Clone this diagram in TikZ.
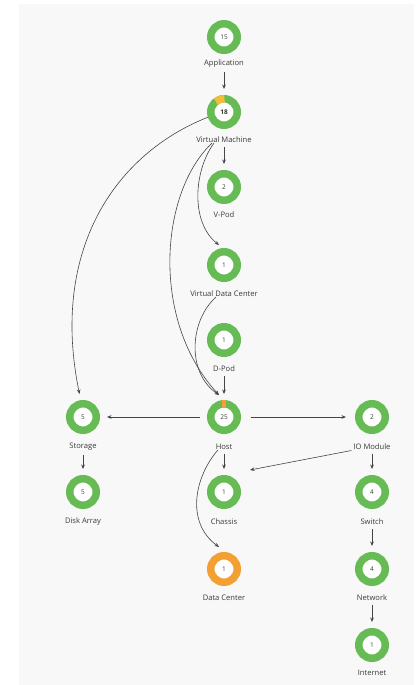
\documentclass[tikz,border=0pt]{standalone}
\usepackage{fontspec}
\setmainfont{Open Sans}
\usetikzlibrary{arrows.meta}
\definecolor{ringgreen}{HTML}{66BB55}
\definecolor{ringorange}{HTML}{F2A033}
\definecolor{warnyellow}{HTML}{F3BD3C}
\definecolor{panel}{HTML}{F8F8F8}
\definecolor{ink}{HTML}{3A3A3A}
\definecolor{edge}{HTML}{454545}
\tikzset{
  ring/.style={circle, draw=ringgreen, line width=7.5pt, fill=white,
    minimum size=26.5pt, inner sep=0pt, text=ink,
    font=\fontsize{6.5}{7}\selectfont},
  orangering/.style={ring, draw=ringorange},
  lab/.style={inner sep=0pt, text=ink, font=\fontsize{7.6}{9}\selectfont},
  arr/.style={draw=edge, line width=0.6pt,
    -{Stealth[length=4.5pt,width=3.6pt]}},
  down/.style={arr, shorten <=4pt, shorten >=6pt},
}
\begin{document}
\begin{tikzpicture}[x=1pt, y=-1pt]
  % page and grey panel
  \useasboundingbox[fill=white] (0,0) rectangle (417,685);
  \fill[panel] (19,4) rectangle (414,685);

  % central column
  \node[ring] (app) at (224,37) {15};
  \node[lab]  (appL) at (224,64) {Application};
  \node[ring] (vm) at (224,112) {\textbf{18}};
  \node[lab]  (vmL) at (224,140) {Virtual Machine};
  \node[ring] (vpod) at (224,187) {2};
  \node[lab]  (vpodL) at (224,215) {V-Pod};
  \node[ring] (vdc) at (224,265) {1};
  \node[lab]  (vdcL) at (224,294) {Virtual Data Center};
  \node[ring] (dpod) at (224,340) {1};
  \node[lab]  (dpodL) at (224,369) {D-Pod};
  \node[ring] (host) at (224,417) {25};
  \node[lab]  (hostL) at (224,447) {Host};
  \node[ring] (chas) at (224,492) {1};
  \node[lab]  (chasL) at (224,522) {Chassis};
  \node[orangering] (dc) at (224,569) {1};
  \node[lab]  (dcL) at (224,598) {Data Center};

  % left column
  \node[ring] (sto) at (83,417) {5};
  \node[lab]  (stoL) at (83,447) {Storage};
  \node[ring] (disk) at (83,492) {5};
  \node[lab]  (diskL) at (83,522) {Disk Array};

  % right column
  \node[ring] (io) at (372,417) {2};
  \node[lab]  (ioL) at (372,447) {IO Module};
  \node[ring] (sw) at (372,492) {4};
  \node[lab]  (swL) at (372,522) {Switch};
  \node[ring] (net) at (372,569) {4};
  \node[lab]  (netL) at (372,598) {Network};
  \node[ring] (inet) at (372,645) {1};
  \node[lab]  (inetL) at (372,673) {Internet};

  % partial warning segments on the rings
  \draw[warnyellow, line width=7.5pt]
    ([shift={(128:13.25pt)}]vm.center) arc[start angle=128, end angle=88, radius=13.25pt];
  \draw[ringorange, line width=7.5pt]
    ([shift={(97:13.25pt)}]host.center) arc[start angle=97, end angle=83, radius=13.25pt];

  % straight vertical links
  \draw[down] (appL) -- (app |- vm.north);
  \draw[down] (vmL) -- (vpod);
  \draw[down] (dpodL) -- (host);
  \draw[down] (stoL) -- (disk);
  \draw[down] (hostL) -- (chas);
  \draw[down] (ioL) -- (sw);
  \draw[down] (swL) -- (net);
  \draw[down] (netL) -- (inet);

  % horizontal links from the host
  \draw[arr, shorten <=7pt, shorten >=7pt] (host) -- (sto);
  \draw[arr, shorten <=10pt, shorten >=9pt] (host) -- (io);

  % curved links (offsets in pt point upwards)
  \draw[arr] (vm.198) .. controls (115,154) and (50,250) .. ([shift={(-3.5pt,23pt)}]sto.center);
  \draw[arr] ([xshift=-10pt]vmL.south) .. controls (194,170) and (190,222) .. ([shift={(-5pt,20pt)}]vdc.center);
  \draw[arr] ([xshift=-12pt]vmL.south) .. controls (160,192) and (150,320) .. ([shift={(-5pt,22pt)}]host.center);
  \draw[arr] ([xshift=-8pt]vdcL.south) .. controls (190,320) and (186,372) .. ([shift={(-5pt,22pt)}]host.center);
  \draw[arr] ([xshift=-6pt]hostL.south) .. controls (195,476) and (185,522) .. ([shift={(-5pt,22pt)}]dc.center);

  % IO module to chassis
  \coordinate (chasIn) at (250,470);
  \draw[arr, shorten <=2pt] (ioL.south west) -- (chasIn);
\end{tikzpicture}
\end{document}
